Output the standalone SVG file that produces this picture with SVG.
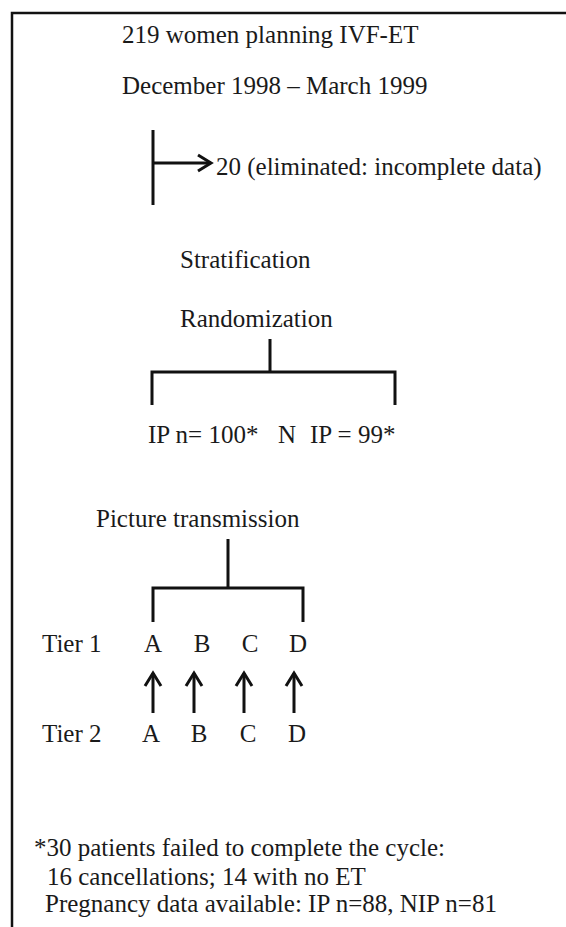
<svg xmlns="http://www.w3.org/2000/svg" width="566" height="927" viewBox="0 0 566 927">
<style>
text{font-family:"Liberation Serif","Times New Roman",serif;font-size:25px;fill:#1a1a1a}
.ln{fill:none;stroke:#111;stroke-width:3}
.mid{text-anchor:middle}
</style>
<defs>
<marker id="ah" markerUnits="userSpaceOnUse" markerWidth="20" markerHeight="24" refX="15" refY="10" orient="auto">
<path d="M2,2 L15,10 L2,18" fill="none" stroke="#111" stroke-width="3"/>
</marker>
</defs>
<rect width="566" height="927" fill="#fff"/>
<path d="M12,927 V13 H566" fill="none" stroke="#111" stroke-width="2.5"/>

<g id="n-enrol">
<text x="122" y="43">219 women planning IVF-ET</text>
<text x="122" y="94">December 1998 – March 1999</text>
</g>
<g id="n-eliminated"><text x="216" y="175">20 (eliminated: incomplete data)</text></g>
<g id="n-strat"><text x="180" y="268">Stratification</text></g>
<g id="n-random"><text x="180" y="327">Randomization</text></g>
<g id="n-groups">
<text x="148" y="443">IP n= 100*</text>
<text x="278" y="443">N</text>
<text x="310" y="443">IP = 99*</text>
</g>
<g id="n-picture"><text x="96" y="527">Picture transmission</text></g>
<g id="n-tier1">
<text x="42" y="652">Tier 1</text>
<text class="mid" x="153" y="652">A</text>
<text class="mid" x="202" y="652">B</text>
<text class="mid" x="250" y="652">C</text>
<text class="mid" x="298" y="652">D</text>
</g>
<g id="n-tier2">
<text x="42" y="742">Tier 2</text>
<text class="mid" x="151" y="742">A</text>
<text class="mid" x="199" y="742">B</text>
<text class="mid" x="248" y="742">C</text>
<text class="mid" x="297" y="742">D</text>
</g>
<g id="n-note">
<text x="34" y="856">*30 patients failed to complete the cycle:</text>
<text x="47" y="885">16 cancellations; 14 with no ET</text>
<text x="45" y="912">Pregnancy data available: IP n=88, NIP n=81</text>
</g>

<g id="connectors">
<path class="ln" d="M153,130 V205"/>
<path class="ln" d="M153,163 H211" marker-end="url(#ah)"/>
<path class="ln" d="M270,339 V372 M152,405 V372 H395 V405"/>
<path class="ln" d="M228,539 V588 M153,622 V588 H303 V622"/>
<path class="ln" d="M153,713 V673" marker-end="url(#ah)"/>
<path class="ln" d="M194,713 V673" marker-end="url(#ah)"/>
<path class="ln" d="M244,713 V673" marker-end="url(#ah)"/>
<path class="ln" d="M294,713 V673" marker-end="url(#ah)"/>
</g>
</svg>
